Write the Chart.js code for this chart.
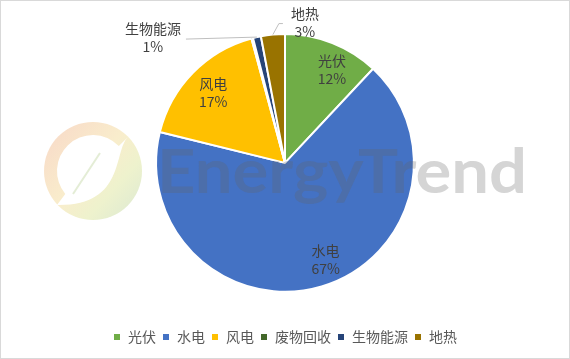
<!DOCTYPE html>
<html>
<head>
<meta charset="utf-8">
<script src="https://cdn.jsdelivr.net/npm/chart.js@4/dist/chart.umd.min.js"></script>
<style>
  html, body { margin: 0; padding: 0; background: #fff; }
  #wrap { width: 570px; height: 359px; box-sizing: border-box; border: 1px solid #d9d9d9; }
</style>
</head>
<body>
<div id="wrap"><canvas id="chart" width="568" height="357"></canvas></div>
<script>
const labels = ['光伏', '水电', '风电', '废物回收', '生物能源', '地热'];
const shares = [12, 67, 17, 0.2, 1, 3];
const colors = ['#70AD47', '#4472C4', '#FFC000', '#43682B', '#264478', '#997300'];

const FONT = '"Noto Sans CJK SC", "Noto Sans", sans-serif';

// faint logo + text watermark
const watermark = {
  id: 'watermark',
  afterDatasetsDraw(chart) {
    const ctx = chart.ctx;
    ctx.save();
    // logo disc
    const g = ctx.createLinearGradient(45, 130, 140, 215);
    g.addColorStop(0, '#f8dac8');
    g.addColorStop(0.45, '#f9edcc');
    g.addColorStop(0.7, '#eef2cd');
    g.addColorStop(1, '#dce9d2');
    ctx.fillStyle = g;
    ctx.beginPath();
    ctx.arc(92, 170, 49, 0, Math.PI * 2);
    ctx.fill();
    // white cut-out that leaves the ring and the leaf
    ctx.fillStyle = '#ffffff';
    ctx.beginPath();
    ctx.moveTo(127, 136);
    ctx.arc(92, 170, 36, Math.atan2(-34, 35), Math.PI * 0.78, true);
    ctx.lineTo(56, 204);
    ctx.bezierCurveTo(125, 205, 112, 150, 127, 136);
    ctx.fill();
    // leaf stem
    ctx.strokeStyle = '#e4edd6';
    ctx.lineWidth = 2;
    ctx.beginPath();
    ctx.moveTo(99, 152);
    ctx.lineTo(72, 193);
    ctx.stroke();
    // brand text
    ctx.font = 'bold 62px Lato, sans-serif';
    ctx.fillStyle = 'rgba(100,100,100,0.27)';
    ctx.textBaseline = 'alphabetic';
    const w = ctx.measureText('EnergyTrend').width;
    ctx.translate(156, 192);
    ctx.scale(370 / w, 1);
    ctx.fillText('EnergyTrend', 0, 0);
    ctx.restore();
  }
};

// slice labels: name + percentage, inside for big slices, outside for small ones
const sliceLabels = {
  id: 'sliceLabels',
  afterDraw(chart) {
    const ctx = chart.ctx;
    const meta = chart.getDatasetMeta(0);
    const total = shares.reduce((a, b) => a + b, 0);
    const nudge = { '光伏': 10, '水电': 12 };
    ctx.save();
    ctx.font = '14px ' + FONT;
    ctx.fillStyle = '#404040';
    ctx.textAlign = 'center';
    ctx.textBaseline = 'middle';
    meta.data.forEach((arc, i) => {
      const pct = Math.round(shares[i] / total * 100);
      if (pct === 0) return;
      const mid = (arc.startAngle + arc.endAngle) / 2;
      const r = arc.outerRadius;
      if (pct >= 10) {
        const d = r * 0.78;
        const x = arc.x + Math.cos(mid) * d + (nudge[labels[i]] || 0);
        const y = arc.y + Math.sin(mid) * d;
        ctx.fillText(labels[i], x, y - 9);
        ctx.fillText(pct + '%', x, y + 9);
      } else {
        const ex = arc.x + Math.cos(mid) * r;
        const ey = arc.y + Math.sin(mid) * r;
        ctx.strokeStyle = '#bfbfbf';
        ctx.lineWidth = 1;
        ctx.beginPath();
        let tx, ty;
        if (labels[i] === '地热') {
          ctx.moveTo(ex, ey);
          ctx.lineTo(ex + 6, ey - 11);
          ctx.lineTo(ex + 10, ey - 11);
          tx = ex + 32; ty = ey - 12;
        } else {
          ctx.moveTo(ex, ey);
          ctx.lineTo(ex - 71, ey + 2);
          tx = ex - 104; ty = ey + 1;
        }
        ctx.stroke();
        ctx.fillText(labels[i], tx, ty - 9);
        ctx.fillText(pct + '%', tx, ty + 9);
      }
    });
    ctx.restore();
  }
};

new Chart(document.getElementById('chart'), {
  type: 'pie',
  data: {
    labels: labels,
    datasets: [{
      data: shares,
      backgroundColor: colors,
      borderColor: '#ffffff',
      borderWidth: 2
    }]
  },
  options: {
    responsive: false,
    animation: false,
    layout: { padding: { top: 32, bottom: 4 } },
    plugins: {
      // spacer between the pie and the legend
      subtitle: {
        display: true,
        text: ' ',
        position: 'bottom',
        weight: 500,
        font: { size: 1 },
        padding: { top: 30, bottom: 0 }
      },
      legend: {
        position: 'bottom',
        labels: {
          boxWidth: 8,
          boxHeight: 8,
          padding: 6,
          color: '#595959',
          font: { family: FONT, size: 14 }
        }
      },
      tooltip: { enabled: false }
    }
  },
  plugins: [watermark, sliceLabels]
});
</script>
</body>
</html>
